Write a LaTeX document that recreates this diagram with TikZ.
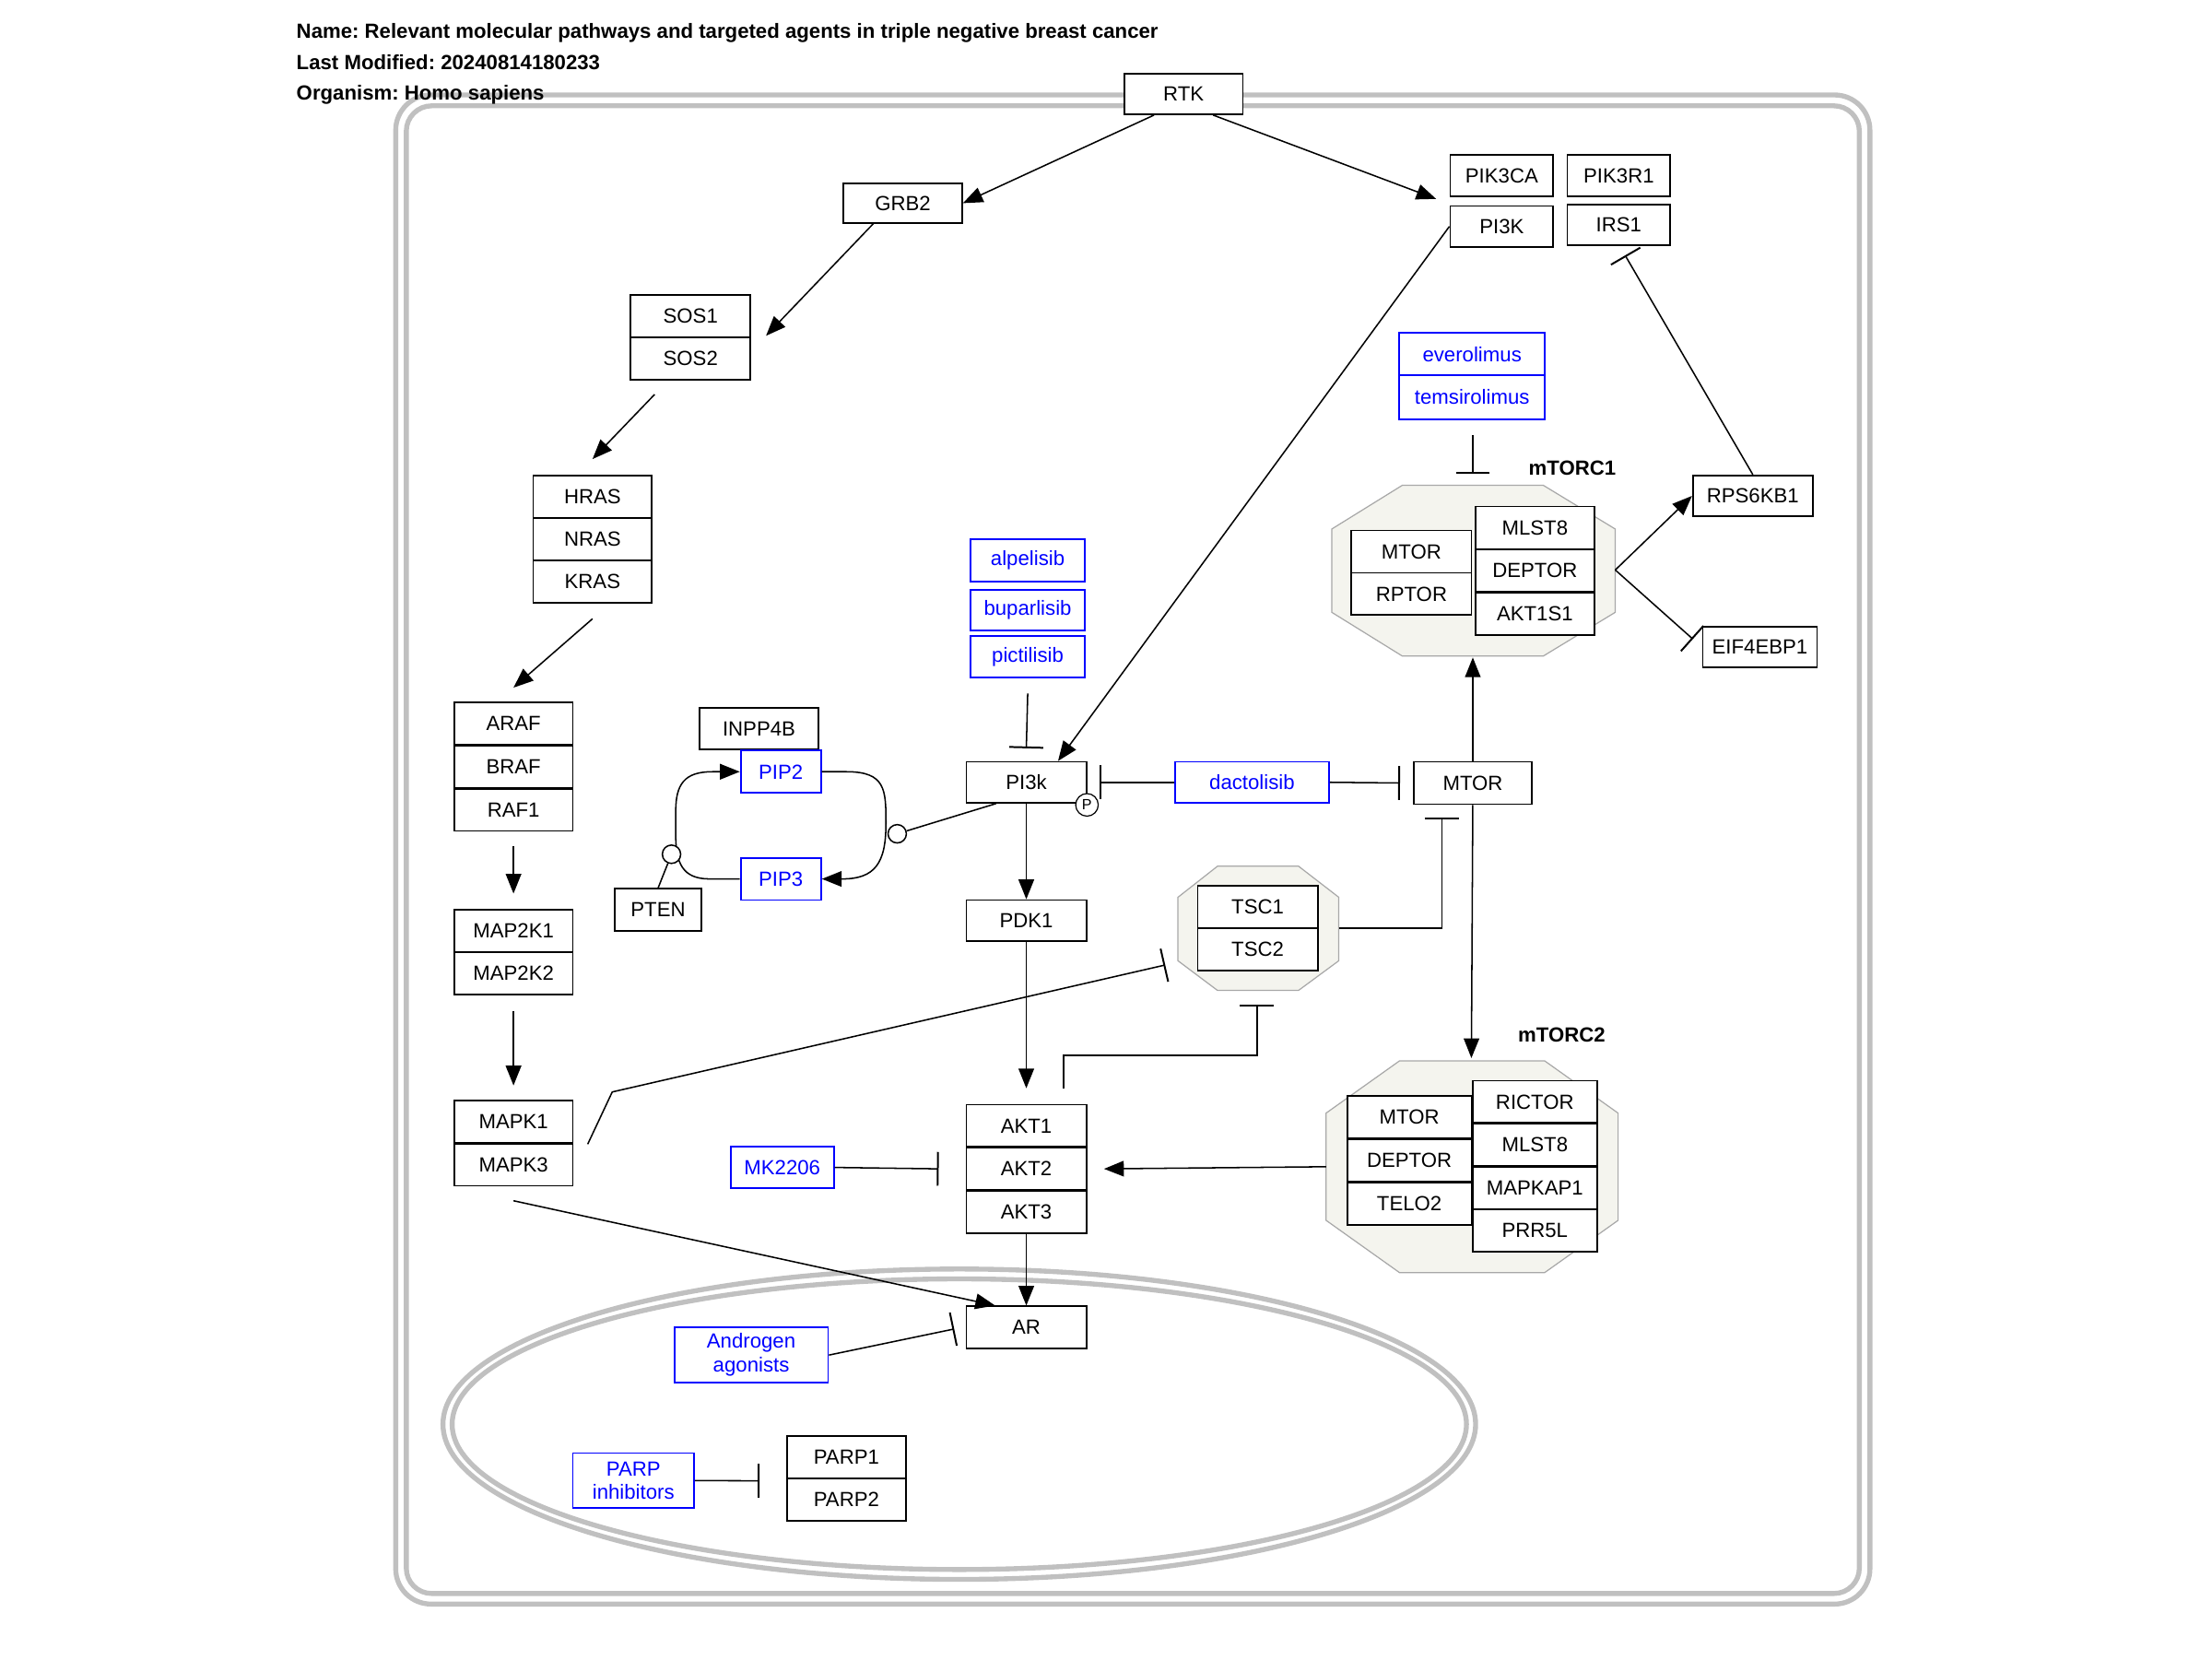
\documentclass[tikz,border=0pt]{standalone}
\usepackage{fontspec}
\setmainfont{Liberation Sans}
\frenchspacing
\usetikzlibrary{arrows.meta,calc}
\definecolor{membr}{HTML}{C0C0C0}
\definecolor{cplxfill}{HTML}{F4F4EE}
\definecolor{cplxdraw}{HTML}{A8A8A8}
\definecolor{drugblue}{HTML}{0000FF}
\begin{document}
\begin{tikzpicture}[x=1pt,y=-1pt,
  gene/.style={draw=black, line width=1.2pt, fill=white, inner sep=0pt, font=\fontsize{14.5}{17}\selectfont, text=black},
  drug/.style={gene, draw=drugblue, text=drugblue, align=center},
  wh/.style 2 args={minimum width=#1pt, minimum height=#2pt},
  act/.style={line width=1pt, -{Triangle[length=14pt,width=11pt]}},
  inh/.style={line width=1pt, -{Bar[width=24pt,line width=1.3pt]}},
  plain/.style={line width=1pt},
  cplx/.style={fill=cplxfill, draw=cplxdraw, line width=0.8pt},
  memb/.style={draw=membr, line width=3.5pt},
  lbl/.style={font=\bfseries\fontsize{14.5}{16}\selectfont, inner sep=0pt},
  titletext/.style={font=\bfseries\fontsize{14.5}{16}\selectfont\frenchspacing, anchor=base west, inner sep=0pt},
  dot/.style={circle, draw=black, line width=1pt, fill=white, inner sep=0pt, minimum size=13pt},
]
\useasboundingbox (0,0) rectangle (1568,1176);

% membranes
\draw[memb, rounded corners=25pt] (280.5,67.3) rectangle (1325.5,1137);
\draw[memb, rounded corners=18pt] (288,75) rectangle (1318,1129.5);
\draw[memb] (680,1009.5) ellipse [x radius=366, y radius=110];
\draw[memb] (680,1009.5) ellipse [x radius=359.5, y radius=103];

% complexes
\draw[cplx] (994,344) -- (1094,344) -- (1145,375) -- (1145,434) -- (1094,465) -- (994,465) -- (944,434) -- (944,375) -- cycle;
\draw[cplx] (992,752) -- (1095,752) -- (1147,789) -- (1147,865) -- (1095,902) -- (992,902) -- (940,865) -- (940,789) -- cycle;
\draw[cplx] (863,614) -- (920.5,614) -- (949,636) -- (949,681) -- (920.5,702) -- (863,702) -- (835,681) -- (835,636) -- cycle;

% title
\node[titletext] (t1) at (210,27.2) {Name: Relevant molecular pathways and targeted agents in triple negative breast cancer};
\node[titletext] (t2) at (210,49) {Last Modified: 20240814180233};
\node[titletext] (t3) at (210,70.8) {Organism: Homo sapiens};

% nodes
\node[gene, wh={84}{29}] (rtk) at (839,66.5) {RTK};
\node[gene, wh={84}{28}] (grb2) at (640,144) {GRB2};
\node[gene, wh={73}{29}] (pik3ca) at (1064.5,124.5) {PIK3CA};
\node[gene, wh={73}{29}] (pik3r1) at (1147.5,124.5) {PIK3R1};
\node[gene, wh={73}{29}] (pi3kB) at (1064.5,160.5) {PI3K};
\node[gene, wh={73}{29}] (irs1) at (1147.5,159.5) {IRS1};
\node[gene, wh={85}{30}] (sos1) at (489.5,224) {SOS1};
\node[gene, wh={85}{30}] (sos2) at (489.5,254) {SOS2};
\node[gene, wh={84}{30}] (hras) at (420,352) {HRAS};
\node[gene, wh={84}{30}] (nras) at (420,382) {NRAS};
\node[gene, wh={84}{30}] (kras) at (420,412) {KRAS};
\node[gene, wh={84}{30}] (araf) at (364,513) {ARAF};
\node[gene, wh={84}{30}] (braf) at (364,543.5) {BRAF};
\node[gene, wh={84}{30}] (raf1) at (364,574) {RAF1};
\node[gene, wh={84}{30}] (map2k1) at (364,660) {MAP2K1};
\node[gene, wh={84}{30}] (map2k2) at (364,690) {MAP2K2};
\node[gene, wh={84}{30}] (mapk1) at (364,795) {MAPK1};
\node[gene, wh={84}{30}] (mapk3) at (364,825.5) {MAPK3};
\node[gene, wh={84}{29}] (inpp4b) at (538,516.5) {INPP4B};
\node[drug, wh={57}{30}] (pip2) at (553.5,547) {PIP2};
\node[drug, wh={57}{30}] (pip3) at (553.5,623) {PIP3};
\node[gene, wh={61}{30}] (pten) at (466.5,645) {PTEN};
\node[gene, wh={85}{29}] (pi3k) at (727.5,554.5) {PI3k};
\node[drug, wh={81}{30}] (alpelisib) at (728.5,397) {alpelisib};
\node[drug, wh={81}{29}] (buparlisib) at (728.5,432.5) {buparlisib};
\node[drug, wh={81}{29}] (pictilisib) at (728.5,465.5) {pictilisib};
\node[drug, wh={109}{29}] (dactolisib) at (887.5,554.5) {dactolisib};
\node[gene, wh={84}{30}] (mtor) at (1044,555) {MTOR};
\node[gene, wh={85}{29}] (pdk1) at (727.5,652.5) {PDK1};
\node[gene, wh={85}{30}] (tsc1) at (891.5,643) {TSC1};
\node[gene, wh={85}{30}] (tsc2) at (891.5,673) {TSC2};
\node[gene, wh={85}{30}] (akt1) at (727.5,798) {AKT1};
\node[gene, wh={85}{30}] (akt2) at (727.5,828.5) {AKT2};
\node[gene, wh={85}{30}] (akt3) at (727.5,859) {AKT3};
\node[drug, wh={73}{29}] (mk2206) at (554.5,827.5) {MK2206};
\node[gene, wh={85}{30}] (ar) at (727.5,941) {AR};
\node[drug, wh={109}{39}, font=\fontsize{14.5}{17}\selectfont] (andro) at (532.5,960.5) {Androgen\\agonists};
\node[drug, wh={86}{39}, font=\fontsize{14.5}{16.5}\selectfont] (parpi) at (449,1049.5) {PARP\\inhibitors};
\node[gene, wh={84}{30}] (parp1) at (600,1033) {PARP1};
\node[gene, wh={84}{30}] (parp2) at (600,1063) {PARP2};
\node[drug, wh={103}{30}] (everolimus) at (1043.5,251) {everolimus};
\node[drug, wh={103}{31}] (temsirolimus) at (1043.5,281.5) {temsirolimus};
\node[gene, wh={85}{30}] (c1mtor) at (1000.5,391) {MTOR};
\node[gene, wh={85}{30}] (rptor) at (1000.5,421) {RPTOR};
\node[gene, wh={84}{30}] (mlst8a) at (1088,374) {MLST8};
\node[gene, wh={84}{30}] (deptora) at (1088,404.5) {DEPTOR};
\node[gene, wh={84}{30}] (akt1s1) at (1088,435) {AKT1S1};
\node[gene, wh={85}{29}] (rps6kb1) at (1242.5,351.5) {RPS6KB1};
\node[gene, wh={81}{29}] (eif4ebp1) at (1247.5,458.5) {EIF4EBP1};
\node[gene, wh={88}{30}] (c2mtor) at (999,792) {MTOR};
\node[gene, wh={88}{30}] (deptorb) at (999,822.5) {DEPTOR};
\node[gene, wh={88}{30}] (telo2) at (999,853) {TELO2};
\node[gene, wh={88}{30}] (rictor) at (1088,781) {RICTOR};
\node[gene, wh={88}{30}] (mlst8b) at (1088,811.5) {MLST8};
\node[gene, wh={88}{30}] (mapkap1) at (1088,842) {MAPKAP1};
\node[gene, wh={88}{30}] (prr5l) at (1088,872) {PRR5L};

\node[lbl] (mtorc1) at (1114.5,332) {mTORC1};
\node[lbl] (mtorc2) at (1107,733.5) {mTORC2};

% free ends
\coordinate (pi3kgrp) at (1018,141);
\coordinate (sosgrp) at (543,238);
\coordinate (irs1bar) at (1152,181);
\coordinate (c1top) at (1044,336);
\coordinate (c1right) at (1145,404);
\coordinate (eifbar) at (1200,453);
\coordinate (c1bottom) at (1044,466);
\coordinate (c2top) at (1043,750);
\coordinate (c2left) at (940,827);
\coordinate (tscright) at (949,658);
\coordinate (tscleft) at (826,684);
\coordinate (tscbottom) at (891,712);

% edges
\draw[act] ($(rtk.south)+(-21,0)$) -- (grb2.east);
\draw[act] ($(rtk.south)+(21,0)$) -- (pi3kgrp);
\draw[act] ($(grb2.south)+(-21,0)$) -- (sosgrp);
\draw[act] ($(sos2.south)+(-25.5,10)$) -- ($(hras.north)+(0,-11)$);
\draw[act] ($(kras.south)+(0,11)$) -- ($(araf.north)+(0,-10)$);
\draw[act] ($(raf1.south)+(0,10)$) -- ($(map2k1.north)+(0,-11)$);
\draw[act] ($(map2k2.south)+(0,11)$) -- ($(mapk1.north)+(0,-10)$);
\draw[act] (pi3kB.west) -- ($(pi3k.north)+(22.5,0)$);
\draw[inh] (rps6kb1.north) -- (irs1bar);
\draw[inh] ($(temsirolimus.south)+(0.5,11)$) -- (c1top);
\draw[act] (c1right) -- (rps6kb1.west);
\draw[inh] (c1right) -- (eifbar);
\draw[act] (mtor.north) -- (c1bottom);
\draw[act] (mtor.south) -- (c2top);
\draw[inh] (dactolisib.east) -- ($(mtor.west)+(-9,0)$);
\draw[inh] (dactolisib.west) -- ($(pi3k.east)+(9,0)$);
\draw[inh] (tscright) -- (1022,658) -- ($(mtor.south)+(-22,9)$);
\draw[inh] ($(pictilisib.south)+(0,11)$) -- ($(pi3k.north)+(0,-9)$);
\draw[act] (pi3k.south) -- (pdk1.north);
\draw[act] (pdk1.south) -- ($(akt1.north)+(0,-11)$);
\draw[act] (akt3.south) -- (ar.north);
\draw[act] ($(mapk3.south)+(0,10)$) -- ($(ar.north west)+(21,0)$);
\draw[inh] ($(mapk1.east)+(10,16)$) -- (434,774) -- (tscleft);
\draw[inh] ($(akt1.north)+(26.5,-11)$) -- (754,748) -- (891,748) -- (tscbottom);
\draw[act] (c2left) -- ($(akt2.east)+(12,0)$);
\draw[inh] (mk2206.east) -- ($(akt2.west)+(-19,0)$);
\draw[inh] (andro.east) -- ($(ar.west)+(-8,1)$);
\draw[inh] (parpi.east) -- ($(parp1.south west)+(-19,1)$);

% PIP cycle
\draw[act] (pip2.east) -- (600,547) .. controls (628,547) and (628,560) .. (628,584) .. controls (628,612) and (620,623) .. (597,623) -- (pip3.east);
\draw[act] (pip3.west) -- (503,623) .. controls (484,623) and (479,612) .. (479,592) -- (479,575) .. controls (479,556) and (485,547) .. (505,547) -- (pip2.west);
\node[dot] (cL) at (476,605.5) {};
\node[dot] (cR) at (636,591) {};
\draw[plain] (pten.north) -- (cL);
\draw[plain] ($(pi3k.south)+(-21.5,0)$) -- (cR);

% phospho site
\node[circle, draw=black, line width=0.8pt, fill=white, inner sep=0pt, minimum size=16pt, font=\fontsize{10.5}{12}\selectfont] (psite) at (770.5,570.5) {P};
\end{tikzpicture}
\end{document}
